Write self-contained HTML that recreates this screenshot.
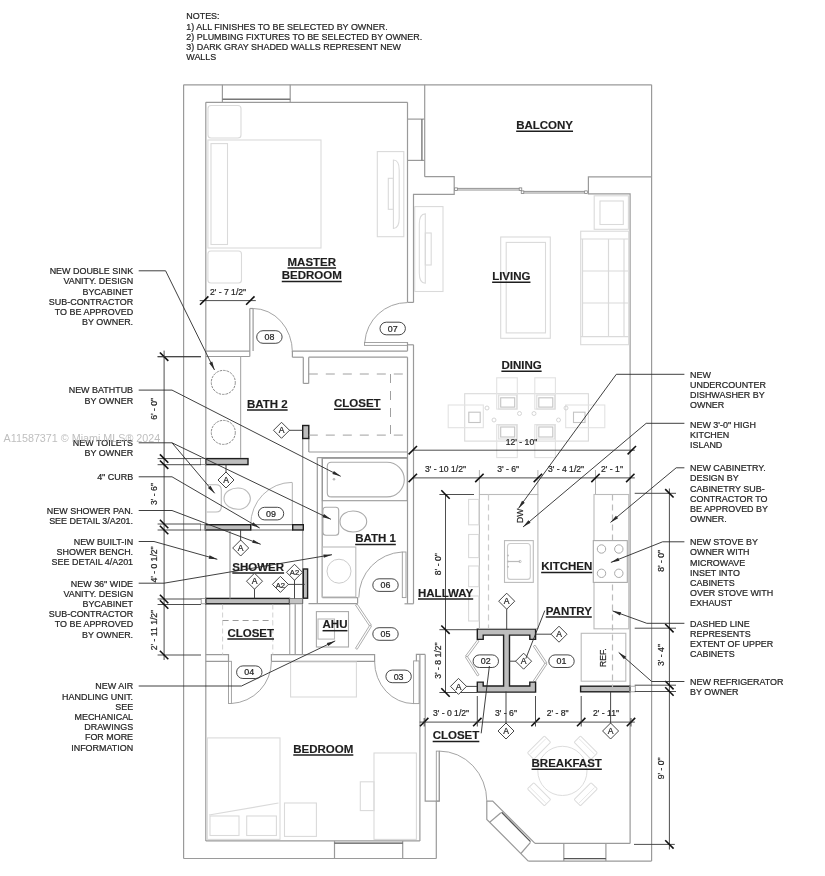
<!DOCTYPE html>
<html><head><meta charset="utf-8"><style>
html,body{margin:0;padding:0;background:#fff;}
svg{display:block;filter:blur(0.35px);}
text{font-family:"Liberation Sans",sans-serif;}
</style></head><body>
<svg width="825" height="876" viewBox="0 0 825 876">
<rect width="825" height="876" fill="#fff"/>
<text x="186.3" y="19.3" font-size="8.95" text-anchor="start" font-weight="normal" fill="#262626" stroke="#262626" stroke-width="0.22" >NOTES:</text>
<text x="186.3" y="29.5" font-size="8.95" text-anchor="start" font-weight="normal" fill="#262626" stroke="#262626" stroke-width="0.22" >1) ALL FINISHES TO BE SELECTED BY OWNER.</text>
<text x="186.3" y="39.7" font-size="8.95" text-anchor="start" font-weight="normal" fill="#262626" stroke="#262626" stroke-width="0.22" >2) PLUMBING FIXTURES TO BE SELECTED BY OWNER.</text>
<text x="186.3" y="49.9" font-size="8.95" text-anchor="start" font-weight="normal" fill="#262626" stroke="#262626" stroke-width="0.22" >3) DARK GRAY SHADED WALLS REPRESENT NEW</text>
<text x="186.3" y="60.099999999999994" font-size="8.95" text-anchor="start" font-weight="normal" fill="#262626" stroke="#262626" stroke-width="0.22" >WALLS</text>
<line x1="183.6" y1="84.8" x2="651.6" y2="84.8" stroke="#9a9a9a" stroke-width="1.2" />
<line x1="183.6" y1="84.8" x2="183.6" y2="858.5" stroke="#9a9a9a" stroke-width="1.2" />
<line x1="651.6" y1="84.8" x2="651.6" y2="861.1" stroke="#9a9a9a" stroke-width="1.2" />
<line x1="183.6" y1="858.5" x2="436.3" y2="858.5" stroke="#9a9a9a" stroke-width="1.2" />
<line x1="222.4" y1="84.8" x2="222.4" y2="102.3" stroke="#9a9a9a" stroke-width="1.2" />
<line x1="290.2" y1="84.8" x2="290.2" y2="102.3" stroke="#9a9a9a" stroke-width="1.2" />
<line x1="222.4" y1="99.2" x2="290.2" y2="99.2" stroke="#777" stroke-width="1.4" />
<line x1="205.8" y1="102.3" x2="407.5" y2="102.3" stroke="#9a9a9a" stroke-width="1.2" />
<line x1="205.8" y1="102.3" x2="205.8" y2="840.9" stroke="#9a9a9a" stroke-width="1.2" />
<line x1="407.5" y1="102.3" x2="407.5" y2="302.4" stroke="#9a9a9a" stroke-width="1.2" />
<line x1="407.5" y1="302.4" x2="413.5" y2="302.4" stroke="#9a9a9a" stroke-width="1.2" />
<line x1="407.5" y1="119.1" x2="424.7" y2="119.1" stroke="#9a9a9a" stroke-width="1.2" />
<line x1="407.5" y1="160.4" x2="424.7" y2="160.4" stroke="#9a9a9a" stroke-width="1.2" />
<line x1="421.9" y1="119.1" x2="421.9" y2="160.4" stroke="#7a7a7a" stroke-width="1.4" />
<line x1="424.7" y1="84.8" x2="424.7" y2="176.7" stroke="#9a9a9a" stroke-width="1.2" />
<polyline points="424.7,176.7 454.2,176.7 454.2,194.3 413.5,194.3 413.5,302.4" stroke="#9a9a9a" stroke-width="1.2" fill="none" />
<line x1="454.5" y1="188.4" x2="521.5" y2="188.4" stroke="#777" stroke-width="0.8" />
<line x1="454.5" y1="190.0" x2="521.5" y2="190.0" stroke="#777" stroke-width="0.8" />
<line x1="521.5" y1="191.4" x2="587" y2="191.4" stroke="#777" stroke-width="0.8" />
<line x1="521.5" y1="193.0" x2="587" y2="193.0" stroke="#777" stroke-width="0.8" />
<rect x="454.7" y="187.89999999999998" width="2.6" height="2.6" stroke="#777" stroke-width="0.7" fill="#fff"/>
<rect x="519.2" y="187.89999999999998" width="2.6" height="2.6" stroke="#777" stroke-width="0.7" fill="#fff"/>
<rect x="521.2" y="190.89999999999998" width="2.6" height="2.6" stroke="#777" stroke-width="0.7" fill="#fff"/>
<rect x="584.7" y="190.89999999999998" width="2.6" height="2.6" stroke="#777" stroke-width="0.7" fill="#fff"/>
<polyline points="651.6,176.9 588.4,176.9 588.4,193.9 630.1,193.9 630.1,843.4" stroke="#9a9a9a" stroke-width="1.2" fill="none" />
<line x1="413.5" y1="344.8" x2="413.5" y2="603.8" stroke="#9a9a9a" stroke-width="1.2" />
<line x1="407.5" y1="357.2" x2="407.5" y2="603.8" stroke="#9a9a9a" stroke-width="1.2" />
<line x1="407.5" y1="342.5" x2="407.5" y2="350.9" stroke="#9a9a9a" stroke-width="1.2" />
<line x1="404.5" y1="603.8" x2="413.5" y2="603.8" stroke="#9a9a9a" stroke-width="1.2" />
<line x1="407.5" y1="344.8" x2="413.5" y2="344.8" stroke="#9a9a9a" stroke-width="1.2" />
<line x1="292.4" y1="351.1" x2="407.5" y2="351.1" stroke="#9a9a9a" stroke-width="1.2" />
<line x1="308.7" y1="357.2" x2="407.5" y2="357.2" stroke="#9a9a9a" stroke-width="1.2" />
<line x1="303.3" y1="357.2" x2="303.3" y2="383.4" stroke="#9a9a9a" stroke-width="1.2" />
<line x1="308.7" y1="357.2" x2="308.7" y2="383.4" stroke="#9a9a9a" stroke-width="1.2" />
<line x1="303.3" y1="383.4" x2="308.7" y2="383.4" stroke="#9a9a9a" stroke-width="1.2" />
<line x1="302.7" y1="438.5" x2="302.7" y2="603.8" stroke="#9a9a9a" stroke-width="1.2" />
<line x1="308.8" y1="438.5" x2="308.8" y2="452" stroke="#9a9a9a" stroke-width="1.2" />
<line x1="308.8" y1="452" x2="407.5" y2="452" stroke="#9a9a9a" stroke-width="1.2" />
<line x1="317.3" y1="457.6" x2="407.5" y2="457.6" stroke="#9a9a9a" stroke-width="1.2" />
<line x1="317.3" y1="457.6" x2="317.3" y2="603.6" stroke="#9a9a9a" stroke-width="1.2" />
<line x1="322.2" y1="457.6" x2="322.2" y2="597.6" stroke="#9a9a9a" stroke-width="1.2" />
<line x1="322.4" y1="597.6" x2="357.6" y2="597.6" stroke="#9a9a9a" stroke-width="1.2" />
<line x1="308.5" y1="603.6" x2="357.6" y2="603.6" stroke="#9a9a9a" stroke-width="1.2" />
<line x1="357.6" y1="597.6" x2="357.6" y2="603.6" stroke="#9a9a9a" stroke-width="1.2" />
<line x1="249.8" y1="308.5" x2="249.8" y2="356.5" stroke="#9a9a9a" stroke-width="1.2" />
<line x1="253.1" y1="308.5" x2="253.1" y2="351.1" stroke="#9a9a9a" stroke-width="1.2" />
<line x1="249.8" y1="308.5" x2="253.1" y2="308.5" stroke="#9a9a9a" stroke-width="1.2" />
<line x1="205.8" y1="356.5" x2="249.8" y2="356.5" stroke="#9a9a9a" stroke-width="1.2" />
<line x1="205.8" y1="351.1" x2="249.8" y2="351.1" stroke="#9a9a9a" stroke-width="1.2" />
<line x1="289.7" y1="604.3" x2="289.7" y2="654.7" stroke="#aaa" stroke-width="1.2" />
<line x1="295.2" y1="604.3" x2="295.2" y2="654.7" stroke="#9a9a9a" stroke-width="1.2" />
<line x1="302.4" y1="604.3" x2="302.4" y2="654.7" stroke="#9a9a9a" stroke-width="1.2" />
<polyline points="205.8,654.7 228.5,654.7 228.5,661.3 205.8,661.3" stroke="#9a9a9a" stroke-width="1.2" fill="none" />
<polyline points="271.4,661.3 271.4,654.7 374.6,654.7 374.6,661.3 271.4,661.3" stroke="#9a9a9a" stroke-width="1.2" fill="none" />
<polyline points="416.4,661.3 416.4,654.4 425.2,654.4" stroke="#9a9a9a" stroke-width="1.2" fill="none" />
<line x1="419.9" y1="654.4" x2="419.9" y2="840.9" stroke="#9a9a9a" stroke-width="1.2" />
<line x1="205.8" y1="840.9" x2="419.9" y2="840.9" stroke="#9a9a9a" stroke-width="1.2" />
<polyline points="425.2,654.4 425.2,801.1 439.3,801.1 439.3,751.1" stroke="#9a9a9a" stroke-width="1.2" fill="none" />
<line x1="436.3" y1="801.1" x2="436.3" y2="858.5" stroke="#9a9a9a" stroke-width="1.2" />
<line x1="413.2" y1="603.8" x2="413.2" y2="603.8" stroke="#9a9a9a" stroke-width="1.2" />
<line x1="334.5" y1="840.9" x2="334.5" y2="858.5" stroke="#9a9a9a" stroke-width="1.2" />
<line x1="402.7" y1="840.9" x2="402.7" y2="858.5" stroke="#9a9a9a" stroke-width="1.2" />
<line x1="334.5" y1="843.2" x2="402.7" y2="843.2" stroke="#555" stroke-width="1.3" />
<line x1="535" y1="843.3" x2="630.1" y2="843.3" stroke="#9a9a9a" stroke-width="1.2" />
<line x1="528.3" y1="861.1" x2="651.6" y2="861.1" stroke="#9a9a9a" stroke-width="1.2" />
<polyline points="486.8,801.1 486.8,819.4 528.3,861.1" stroke="#9a9a9a" stroke-width="1.2" fill="none" />
<polyline points="486.8,801.1 492.7,801.1 535,843.3" stroke="#9a9a9a" stroke-width="1.2" fill="none" />
<line x1="501.6" y1="812.3" x2="530.5" y2="841.6" stroke="#555" stroke-width="1.3" />
<line x1="489.7" y1="822.3" x2="500.9" y2="812.7" stroke="#9a9a9a" stroke-width="1.2" />
<line x1="520.9" y1="853.5" x2="530.5" y2="842.4" stroke="#9a9a9a" stroke-width="1.2" />
<line x1="563.8" y1="843.3" x2="563.8" y2="861.1" stroke="#9a9a9a" stroke-width="1.2" />
<line x1="605.9" y1="843.3" x2="605.9" y2="861.1" stroke="#9a9a9a" stroke-width="1.2" />
<line x1="563.8" y1="858.7" x2="605.9" y2="858.7" stroke="#555" stroke-width="1.3" />
<path d="M253.1,308.5 A39.3,43.7 0 0 1 292.4,352.2" stroke="#9a9a9a" stroke-width="0.9" fill="none" />
<line x1="292.4" y1="351.1" x2="292.4" y2="357.2" stroke="#9a9a9a" stroke-width="1.2" />
<line x1="292.4" y1="357.2" x2="303.3" y2="357.2" stroke="#9a9a9a" stroke-width="1.2" />
<rect x="364.5" y="342.5" width="43.0" height="2.8999999999999773" rx="0" stroke="#9a9a9a" stroke-width="0.9" fill="none" />
<path d="M364.8,342.1 A42.5,42.5 0 0 1 407.3,302.6" stroke="#9a9a9a" stroke-width="0.9" fill="none" />
<rect x="402.3" y="552" width="3.6999999999999886" height="45.60000000000002" rx="0" stroke="#9a9a9a" stroke-width="0.9" fill="none" />
<path d="M402.3,552 A45.6,45.6 0 0 0 358.8,597.6" stroke="#9a9a9a" stroke-width="0.9" fill="none" />
<rect x="228.5" y="661.3" width="2.9000000000000057" height="42.200000000000045" rx="0" stroke="#9a9a9a" stroke-width="0.9" fill="none" />
<path d="M231.4,703.5 A42.2,42.2 0 0 0 271.4,661.3" stroke="#9a9a9a" stroke-width="0.9" fill="none" />
<rect x="413.6" y="660.9" width="5.5" height="42.700000000000045" rx="0" stroke="#9a9a9a" stroke-width="0.9" fill="none" />
<path d="M413.6,703.6 A39,42.3 0 0 1 374.6,661.3" stroke="#9a9a9a" stroke-width="0.9" fill="none" />
<path d="M292,482.4 A41.3,42.3 0 0 0 250.7,524.7" stroke="#aaa" stroke-width="0.9" fill="none" />
<line x1="292.3" y1="482.4" x2="292.3" y2="524.7" stroke="#aaa" stroke-width="0.9" />
<rect x="436.3" y="751.1" width="3.0" height="50.0" rx="0" stroke="#9a9a9a" stroke-width="0.9" fill="none" />
<path d="M439.3,751.1 A47.5,50 0 0 1 486.8,801.1" stroke="#9a9a9a" stroke-width="0.9" fill="none" />
<polygon points="355.46975309984276,605.0573958062089 369.7697530998428,626.3573958062088 371.4302469001573,625.2426041937911 357.13024690015726,603.9426041937911" stroke="#9a9a9a" stroke-width="0.8" fill="#fff" />
<polygon points="369.75075942173265,625.2719939013381 355.45075942173264,648.2719939013381 357.1492405782674,649.3280060986618 371.4492405782674,626.3280060986618" stroke="#9a9a9a" stroke-width="0.8" fill="#fff" />
<polygon points="477.3958238585337,640.0056089389162 465.4958238585337,656.1056089389162 467.1041761414663,657.2943910610838 479.0041761414663,641.1943910610838" stroke="#9a9a9a" stroke-width="0.8" fill="#fff" />
<polygon points="465.4563385122679,657.2368754921932 477.3563385122679,675.9368754921932 479.0436614877321,674.8631245078068 467.1436614877321,656.1631245078069" stroke="#9a9a9a" stroke-width="0.8" fill="#fff" />
<polygon points="533.3686689266763,646.255777515312 545.2686689266762,664.055777515312 546.9313310733238,662.944222484688 535.0313310733238,645.144222484688" stroke="#9a9a9a" stroke-width="0.8" fill="#fff" />
<polygon points="545.2686689266762,662.944222484688 533.3686689266763,680.744222484688 535.0313310733238,681.855777515312 546.9313310733238,664.055777515312" stroke="#9a9a9a" stroke-width="0.8" fill="#fff" />
<rect x="205.8" y="458.6" width="42.19999999999999" height="6.0" rx="0" stroke="#1e1e1e" stroke-width="1.4" fill="#bdbdbd" />
<rect x="200.5" y="458.6" width="5.300000000000011" height="6.0" rx="0" stroke="#888" stroke-width="0.8" fill="none" />
<rect x="250.7" y="524.7" width="42.0" height="5.2999999999999545" rx="0" stroke="#555" stroke-width="0.9" fill="none" />
<rect x="205.3" y="524.7" width="45.39999999999998" height="5.2999999999999545" rx="0" stroke="#1e1e1e" stroke-width="1.4" fill="#bdbdbd" />
<rect x="292.7" y="524.7" width="10.600000000000023" height="5.2999999999999545" rx="0" stroke="#1e1e1e" stroke-width="1.4" fill="#bdbdbd" />
<rect x="205.8" y="598.4" width="83.69999999999999" height="5.399999999999977" rx="0" stroke="#1e1e1e" stroke-width="1.4" fill="#bdbdbd" />
<rect x="303.3" y="569" width="4.300000000000011" height="29.200000000000045" rx="0" stroke="#1e1e1e" stroke-width="1.4" fill="#bdbdbd" />
<rect x="302.7" y="425.5" width="6.100000000000023" height="13.0" rx="0" stroke="#1e1e1e" stroke-width="1.4" fill="#bdbdbd" />
<rect x="200.5" y="524.7" width="4.800000000000011" height="5.2999999999999545" rx="0" stroke="#888" stroke-width="0.8" fill="none" />
<rect x="201.2" y="598.4" width="4.600000000000023" height="5.399999999999977" rx="0" stroke="#888" stroke-width="0.8" fill="none" />
<rect x="289.5" y="598.4" width="13.100000000000023" height="5.399999999999977" rx="0" stroke="#666" stroke-width="0.8" fill="#c4c4c4" />
<rect x="580.6" y="686.2" width="49.10000000000002" height="5.599999999999909" rx="0" stroke="#1e1e1e" stroke-width="1.4" fill="#bdbdbd" />
<rect x="629.7" y="686.2" width="5.599999999999909" height="5.599999999999909" rx="0" stroke="#999" stroke-width="0.8" fill="none" />
<path d="M477.3,629.1 H535.6 V639.4 H529.8 V635.1 H509.5 V686 H529.8 V682.1 H535.6 V692.1 H477.3 V682.1 H483.2 V686 H503.6 V635.1 H483.2 V639.4 H477.3 Z" stroke="#1e1e1e" stroke-width="1.4" fill="#bdbdbd" />
<rect x="207.9" y="140" width="113.1" height="108" rx="0" stroke="#dadada" stroke-width="1.1" fill="none" />
<rect x="211" y="143.6" width="16.5" height="100.9" rx="0" stroke="#dadada" stroke-width="1.1" fill="none" />
<rect x="207.9" y="251" width="33.599999999999994" height="32" rx="3" stroke="#dadada" stroke-width="1.1" fill="none" />
<rect x="208" y="105.5" width="33" height="32.5" rx="3" stroke="#dadada" stroke-width="1.1" fill="none" />
<rect x="377.3" y="151.6" width="26.5" height="85.1" rx="0" stroke="#dadada" stroke-width="1.1" fill="none" />
<path d="M393.4,160 Q399.2,160 399.2,170 V218 Q399.2,228.5 393.4,228.5 Z" stroke="#dadada" stroke-width="1.1" fill="none" />
<rect x="388.3" y="178.3" width="5.099999999999966" height="31.0" rx="0" stroke="#dadada" stroke-width="1.1" fill="none" />
<path d="M308.8,374 H407.5 M308.8,435.1 H407.5" stroke="#a0a0a0" stroke-width="1.0" fill="none" stroke-dasharray="9,8"/>
<path d="M390.5,374 V435.1" stroke="#a0a0a0" stroke-width="1.0" fill="none" stroke-dasharray="9,8"/>
<circle cx="223.3" cy="382.4" r="12" stroke="#8a8a8a" stroke-width="1" fill="none" stroke-dasharray="2.5,1"/>
<circle cx="223.3" cy="432.4" r="12" stroke="#8a8a8a" stroke-width="1" fill="none" stroke-dasharray="2.5,1"/>
<line x1="240.6" y1="356.7" x2="240.6" y2="458" stroke="#b0b0b0" stroke-width="1.2" />
<rect x="322.4" y="458.3" width="84.90000000000003" height="42.39999999999998" rx="0" stroke="#999" stroke-width="1.1" fill="none" />
<path d="M331.3,462.3 H387 A17.3,17.3 0 0 1 387,496.9 H331.3 Q327.3,496.9 327.3,492.9 V466.3 Q327.3,462.3 331.3,462.3 Z" stroke="#aaa" stroke-width="1.1" fill="none" />
<circle cx="334" cy="479.3" r="1.3" fill="#bbb"/>
<path d="M206.7,484.7 H216 Q221.3,484.7 221.3,490 V506.7 Q221.3,512 216,512 H206.7" stroke="#bbb" stroke-width="1.1" fill="none" />
<path d="M224,498.6 C224,491 232,488 238,488 C246,488 250.4,494 250.4,498.6 C250.4,503.5 246,509.3 238,509.3 C232,509.3 224,506 224,498.6 Z" stroke="#bbb" stroke-width="1.1" fill="none" />
<rect x="322.9" y="507.3" width="15.800000000000011" height="27.999999999999943" rx="3" stroke="#aaa" stroke-width="1.1" fill="none" />
<path d="M340,521.5 C340,514 347,511 353,511 C361,511 366.7,516 366.7,521.5 C366.7,527 361,532 353,532 C347,532 340,529 340,521.5 Z" stroke="#aaa" stroke-width="1.1" fill="none" />
<rect x="322.4" y="547" width="33.400000000000034" height="50" rx="0" stroke="#bbb" stroke-width="1.1" fill="none" />
<circle cx="339" cy="571.2" r="12" stroke="#ccc" stroke-width="1" fill="none"/>
<rect x="316.4" y="611.6" width="32.10000000000002" height="35.39999999999998" rx="0" stroke="#aaa" stroke-width="1.1" fill="none" />
<rect x="318" y="619" width="16.5" height="20.100000000000023" rx="0" stroke="#bbb" stroke-width="1.1" fill="none" />
<path d="M222.6,604.5 V654.7 M272.8,604.5 V654.7" stroke="#ccc" stroke-width="0.9" fill="none" stroke-dasharray="5,3"/>
<path d="M222.6,620.5 H272.8" stroke="#9a9a9a" stroke-width="1.0" fill="none" stroke-dasharray="6,4"/>
<line x1="230" y1="530" x2="230" y2="598.4" stroke="#999" stroke-width="1.2" />
<rect x="290.6" y="662" width="65.79999999999995" height="35" rx="0" stroke="#dadada" stroke-width="1.1" fill="none" />
<rect x="207.3" y="737.9" width="72.69999999999999" height="101.5" rx="0" stroke="#dadada" stroke-width="1.1" fill="none" />
<rect x="210" y="816" width="29" height="19.5" rx="0" stroke="#dadada" stroke-width="1.1" fill="none" />
<rect x="246.7" y="816" width="29.69999999999999" height="19.5" rx="0" stroke="#dadada" stroke-width="1.1" fill="none" />
<line x1="209" y1="815" x2="278.5" y2="803" stroke="#dadada" stroke-width="1.2" />
<rect x="284.5" y="803" width="31.899999999999977" height="33.39999999999998" rx="0" stroke="#dadada" stroke-width="1.1" fill="none" />
<rect x="374" y="753" width="42.39999999999998" height="86.39999999999998" rx="0" stroke="#dadada" stroke-width="1.1" fill="none" />
<rect x="360.3" y="781.8" width="13.699999999999989" height="28.800000000000068" rx="0" stroke="#dadada" stroke-width="1.1" fill="none" />
<rect x="414.7" y="206.6" width="28.30000000000001" height="84.9" rx="0" stroke="#dadada" stroke-width="1.1" fill="none" />
<path d="M425.3,213.9 Q419.3,213.9 419.3,224 V273 Q419.3,283.2 425.3,283.2 Z" stroke="#dadada" stroke-width="1.1" fill="none" />
<rect x="425.3" y="233" width="5.899999999999977" height="32" rx="0" stroke="#dadada" stroke-width="1.1" fill="none" />
<rect x="500.7" y="237" width="49.599999999999966" height="101.30000000000001" rx="0" stroke="#dadada" stroke-width="1.1" fill="none" />
<rect x="506.2" y="242.4" width="39.30000000000001" height="90.49999999999997" rx="0" stroke="#dadada" stroke-width="1.1" fill="none" />
<rect x="580.7" y="231.2" width="48.0" height="113.5" rx="0" stroke="#dadada" stroke-width="1.1" fill="none" />
<line x1="583" y1="271" x2="628" y2="271" stroke="#dadada" stroke-width="1.2" />
<line x1="583" y1="303" x2="628" y2="303" stroke="#dadada" stroke-width="1.2" />
<line x1="608.5" y1="239" x2="608.5" y2="336.7" stroke="#dadada" stroke-width="1.2" />
<line x1="580.7" y1="239" x2="628.7" y2="239" stroke="#dadada" stroke-width="1.2" />
<line x1="580.7" y1="336.7" x2="628.7" y2="336.7" stroke="#dadada" stroke-width="1.2" />
<line x1="582.5" y1="239" x2="582.5" y2="336.7" stroke="#dadada" stroke-width="1.2" />
<line x1="624" y1="239" x2="624" y2="336.7" stroke="#dadada" stroke-width="1.2" />
<rect x="594.2" y="195.8" width="34.19999999999993" height="33.5" rx="0" stroke="#dadada" stroke-width="1.1" fill="none" />
<rect x="600" y="201" width="23.299999999999955" height="23.5" rx="0" stroke="#dadada" stroke-width="1.1" fill="none" />
<rect x="464.7" y="393.7" width="123.69999999999999" height="47.400000000000034" rx="0" stroke="#dadada" stroke-width="1.1" fill="none" />
<rect x="496.7" y="377.8" width="20.599999999999966" height="31.30000000000001" rx="0" stroke="#e2e2e2" stroke-width="1.1" fill="none" />
<rect x="500.7" y="397.8" width="14.000000000000057" height="9.300000000000011" rx="0" stroke="#c4c4c4" stroke-width="1.1" fill="none" />
<rect x="498.7" y="395" width="18.000000000000057" height="14" rx="0" stroke="#dcdcdc" stroke-width="1.1" fill="none" />
<rect x="496.7" y="424.6" width="20.599999999999966" height="33.0" rx="0" stroke="#e2e2e2" stroke-width="1.1" fill="none" />
<rect x="500.7" y="427" width="14.000000000000057" height="10" rx="0" stroke="#c4c4c4" stroke-width="1.1" fill="none" />
<rect x="498.7" y="425" width="18.000000000000057" height="14" rx="0" stroke="#dcdcdc" stroke-width="1.1" fill="none" />
<rect x="534.8" y="377.8" width="20.600000000000023" height="31.30000000000001" rx="0" stroke="#e2e2e2" stroke-width="1.1" fill="none" />
<rect x="538.8" y="397.8" width="14.0" height="9.300000000000011" rx="0" stroke="#c4c4c4" stroke-width="1.1" fill="none" />
<rect x="536.8" y="395" width="18.0" height="14" rx="0" stroke="#dcdcdc" stroke-width="1.1" fill="none" />
<rect x="534.8" y="424.6" width="20.600000000000023" height="33.0" rx="0" stroke="#e2e2e2" stroke-width="1.1" fill="none" />
<rect x="538.8" y="427" width="14.0" height="10" rx="0" stroke="#c4c4c4" stroke-width="1.1" fill="none" />
<rect x="536.8" y="425" width="18.0" height="14" rx="0" stroke="#dcdcdc" stroke-width="1.1" fill="none" />
<rect x="448.2" y="405" width="35.10000000000002" height="22.69999999999999" rx="0" stroke="#e2e2e2" stroke-width="1.1" fill="none" />
<rect x="468.8" y="412.2" width="11.399999999999977" height="10.300000000000011" rx="0" stroke="#c4c4c4" stroke-width="1.1" fill="none" />
<rect x="565.7" y="405" width="39.09999999999991" height="22.69999999999999" rx="0" stroke="#e2e2e2" stroke-width="1.1" fill="none" />
<rect x="573.5" y="412.2" width="11.5" height="10.300000000000011" rx="0" stroke="#c4c4c4" stroke-width="1.1" fill="none" />
<circle cx="487" cy="408" r="2" stroke="#ccc" stroke-width="0.8" fill="none"/>
<circle cx="519.5" cy="413.5" r="2" stroke="#ccc" stroke-width="0.8" fill="none"/>
<circle cx="534" cy="413.5" r="2" stroke="#ccc" stroke-width="0.8" fill="none"/>
<circle cx="494" cy="420" r="2" stroke="#ccc" stroke-width="0.8" fill="none"/>
<circle cx="558.5" cy="420" r="2" stroke="#ccc" stroke-width="0.8" fill="none"/>
<circle cx="566" cy="408" r="2" stroke="#ccc" stroke-width="0.8" fill="none"/>
<rect x="479.4" y="494.5" width="58.5" height="134.0" rx="0" stroke="#bbb" stroke-width="1.1" fill="none" />
<line x1="488.5" y1="494.5" x2="488.5" y2="628" stroke="#ccc" stroke-width="1.2" stroke-dasharray="6,4"/>
<rect x="504.5" y="540.6" width="28.799999999999955" height="41.799999999999955" rx="0" stroke="#bbb" stroke-width="1.1" fill="none" />
<rect x="507.5" y="543.5" width="22.799999999999955" height="35.89999999999998" rx="3" stroke="#ccc" stroke-width="1.1" fill="none" />
<rect x="468.6" y="499.4" width="10.199999999999989" height="25.399999999999977" rx="0" stroke="#dadada" stroke-width="1.1" fill="none" />
<rect x="468.6" y="534.5" width="10.199999999999989" height="23.100000000000023" rx="0" stroke="#dadada" stroke-width="1.1" fill="none" />
<rect x="468.6" y="566" width="10.199999999999989" height="20.700000000000045" rx="0" stroke="#dadada" stroke-width="1.1" fill="none" />
<rect x="468.6" y="596" width="10.199999999999989" height="25" rx="0" stroke="#dadada" stroke-width="1.1" fill="none" />
<circle cx="507.9" cy="555.6" r="1" fill="#bbb"/>
<circle cx="507.9" cy="561.5" r="1" fill="#bbb"/>
<circle cx="507.9" cy="566.8" r="1" fill="#bbb"/>
<line x1="507.9" y1="561.5" x2="520" y2="561.5" stroke="#bbb" stroke-width="1.2" />
<circle cx="520" cy="561.5" r="1.2" fill="none" stroke="#bbb" stroke-width="0.8"/>
<line x1="479.4" y1="470" x2="479.4" y2="494.5" stroke="#aaa" stroke-width="0.9" />
<line x1="537.9" y1="470" x2="537.9" y2="494.5" stroke="#aaa" stroke-width="0.9" />
<line x1="595.5" y1="470" x2="595.5" y2="494.5" stroke="#aaa" stroke-width="0.9" />
<rect x="594" y="494.5" width="34.799999999999955" height="134.29999999999995" rx="0" stroke="#bbb" stroke-width="1.1" fill="none" />
<line x1="612.5" y1="494.5" x2="612.5" y2="692" stroke="#bbb" stroke-width="1.2" stroke-dasharray="6,4"/>
<rect x="593.3" y="540.6" width="34.0" height="41.799999999999955" rx="0" stroke="#aaa" stroke-width="1.1" fill="#fff" />
<circle cx="601.5" cy="549" r="4.2" stroke="#aaa" stroke-width="1" fill="none"/>
<circle cx="618.8" cy="549" r="4.2" stroke="#aaa" stroke-width="1" fill="none"/>
<circle cx="601.5" cy="573.3" r="4.2" stroke="#aaa" stroke-width="1" fill="none"/>
<circle cx="618.8" cy="573.3" r="4.2" stroke="#aaa" stroke-width="1" fill="none"/>
<rect x="581.2" y="633.3" width="44.59999999999991" height="47.90000000000009" rx="0" stroke="#bbb" stroke-width="1.1" fill="none" />
<text x="0" y="0" font-size="8.6" text-anchor="middle" font-weight="normal" fill="#262626" stroke="#262626" stroke-width="0.22" transform="translate(605.5,657.6) rotate(-90)">REF.</text>
<circle cx="562.4" cy="770.9" r="24.6" stroke="#ddd" stroke-width="1" fill="none"/>
<g transform="rotate(135 585.734523779156 794.234523779156)"><rect x="573.734523779156" y="789.734523779156" width="24" height="9" rx="1" stroke="#dcdcdc" stroke-width="1" fill="#fff"/><line x1="574.734523779156" y1="792.734523779156" x2="596.734523779156" y2="792.734523779156" stroke="#e2e2e2" stroke-width="0.8"/></g>
<g transform="rotate(225 539.065476220844 794.234523779156)"><rect x="527.065476220844" y="789.734523779156" width="24" height="9" rx="1" stroke="#dcdcdc" stroke-width="1" fill="#fff"/><line x1="528.065476220844" y1="792.734523779156" x2="550.065476220844" y2="792.734523779156" stroke="#e2e2e2" stroke-width="0.8"/></g>
<g transform="rotate(315 539.065476220844 747.565476220844)"><rect x="527.065476220844" y="743.065476220844" width="24" height="9" rx="1" stroke="#dcdcdc" stroke-width="1" fill="#fff"/><line x1="528.065476220844" y1="746.065476220844" x2="550.065476220844" y2="746.065476220844" stroke="#e2e2e2" stroke-width="0.8"/></g>
<g transform="rotate(405 585.734523779156 747.565476220844)"><rect x="573.734523779156" y="743.065476220844" width="24" height="9" rx="1" stroke="#dcdcdc" stroke-width="1" fill="#fff"/><line x1="574.734523779156" y1="746.065476220844" x2="596.734523779156" y2="746.065476220844" stroke="#e2e2e2" stroke-width="0.8"/></g>
<line x1="164.1" y1="350.6" x2="164.1" y2="660" stroke="#3a3a3a" stroke-width="0.9" />
<line x1="157.6" y1="356.7" x2="201" y2="356.7" stroke="#3a3a3a" stroke-width="0.9" />
<line x1="157.6" y1="458.6" x2="201" y2="458.6" stroke="#3a3a3a" stroke-width="0.9" />
<line x1="157.6" y1="464.7" x2="201" y2="464.7" stroke="#3a3a3a" stroke-width="0.9" />
<line x1="157.6" y1="524" x2="201" y2="524" stroke="#3a3a3a" stroke-width="0.9" />
<line x1="157.6" y1="530" x2="201" y2="530" stroke="#3a3a3a" stroke-width="0.9" />
<line x1="157.6" y1="599" x2="201" y2="599" stroke="#3a3a3a" stroke-width="0.9" />
<line x1="157.6" y1="604.5" x2="201" y2="604.5" stroke="#3a3a3a" stroke-width="0.9" />
<line x1="157.6" y1="655" x2="201" y2="655" stroke="#3a3a3a" stroke-width="0.9" />
<line x1="159.9" y1="352.5" x2="168.29999999999998" y2="360.9" stroke="#111" stroke-width="1.6" />
<line x1="159.9" y1="454.40000000000003" x2="168.29999999999998" y2="462.8" stroke="#111" stroke-width="1.6" />
<line x1="159.9" y1="460.5" x2="168.29999999999998" y2="468.9" stroke="#111" stroke-width="1.6" />
<line x1="159.9" y1="519.8" x2="168.29999999999998" y2="528.2" stroke="#111" stroke-width="1.6" />
<line x1="159.9" y1="525.8" x2="168.29999999999998" y2="534.2" stroke="#111" stroke-width="1.6" />
<line x1="159.9" y1="594.8" x2="168.29999999999998" y2="603.2" stroke="#111" stroke-width="1.6" />
<line x1="159.9" y1="600.3" x2="168.29999999999998" y2="608.7" stroke="#111" stroke-width="1.6" />
<line x1="159.9" y1="650.8" x2="168.29999999999998" y2="659.2" stroke="#111" stroke-width="1.6" />
<line x1="157.6" y1="356.7" x2="201" y2="356.7" stroke="#3a3a3a" stroke-width="0.9" />
<text x="0" y="0" font-size="8.6" text-anchor="middle" font-weight="normal" fill="#262626" stroke="#262626" stroke-width="0.22" transform="translate(157.4,408.8) rotate(-90)">6' - 0"</text>
<text x="0" y="0" font-size="8.6" text-anchor="middle" font-weight="normal" fill="#262626" stroke="#262626" stroke-width="0.22" transform="translate(157.4,494) rotate(-90)">3' - 6"</text>
<text x="0" y="0" font-size="8.6" text-anchor="middle" font-weight="normal" fill="#262626" stroke="#262626" stroke-width="0.22" transform="translate(157.4,564.5) rotate(-90)">4' - 0 1/2"</text>
<text x="0" y="0" font-size="8.6" text-anchor="middle" font-weight="normal" fill="#262626" stroke="#262626" stroke-width="0.22" transform="translate(157.4,630) rotate(-90)">2' - 11 1/2"</text>
<line x1="199.7" y1="300.6" x2="255.8" y2="300.6" stroke="#3a3a3a" stroke-width="0.9" />
<line x1="200.0" y1="304.8" x2="208.39999999999998" y2="296.40000000000003" stroke="#111" stroke-width="1.6" />
<line x1="246.10000000000002" y1="304.8" x2="254.5" y2="296.40000000000003" stroke="#111" stroke-width="1.6" />
<text x="228" y="294.5" font-size="8.6" text-anchor="middle" font-weight="normal" fill="#262626" stroke="#262626" stroke-width="0.22" >2' - 7 1/2"</text>
<line x1="412.8" y1="450.2" x2="634.8" y2="450.2" stroke="#3a3a3a" stroke-width="0.9" />
<line x1="408.6" y1="454.4" x2="417.0" y2="446.0" stroke="#111" stroke-width="1.6" />
<line x1="627.5999999999999" y1="454.4" x2="636.0" y2="446.0" stroke="#111" stroke-width="1.6" />
<text x="521.5" y="444.6" font-size="8.6" text-anchor="middle" font-weight="normal" fill="#262626" stroke="#262626" stroke-width="0.22" >12' - 10"</text>
<line x1="412.8" y1="477.9" x2="634.8" y2="477.9" stroke="#3a3a3a" stroke-width="0.9" />
<line x1="408.6" y1="482.09999999999997" x2="417.0" y2="473.7" stroke="#111" stroke-width="1.6" />
<line x1="475.2" y1="482.09999999999997" x2="483.59999999999997" y2="473.7" stroke="#111" stroke-width="1.6" />
<line x1="533.6999999999999" y1="482.09999999999997" x2="542.1" y2="473.7" stroke="#111" stroke-width="1.6" />
<line x1="591.3" y1="482.09999999999997" x2="599.7" y2="473.7" stroke="#111" stroke-width="1.6" />
<line x1="626.0999999999999" y1="482.09999999999997" x2="634.5" y2="473.7" stroke="#111" stroke-width="1.6" />
<text x="445.5" y="471.8" font-size="8.6" text-anchor="middle" font-weight="normal" fill="#262626" stroke="#262626" stroke-width="0.22" >3' - 10 1/2"</text>
<text x="508.2" y="471.8" font-size="8.6" text-anchor="middle" font-weight="normal" fill="#262626" stroke="#262626" stroke-width="0.22" >3' - 6"</text>
<text x="566" y="471.8" font-size="8.6" text-anchor="middle" font-weight="normal" fill="#262626" stroke="#262626" stroke-width="0.22" >3' - 4 1/2"</text>
<text x="612" y="471.8" font-size="8.6" text-anchor="middle" font-weight="normal" fill="#262626" stroke="#262626" stroke-width="0.22" >2' - 1"</text>
<line x1="445.5" y1="494.5" x2="445.5" y2="692.5" stroke="#3a3a3a" stroke-width="0.9" />
<line x1="439.4" y1="494.5" x2="474" y2="494.5" stroke="#3a3a3a" stroke-width="0.9" />
<line x1="441.3" y1="490.3" x2="449.7" y2="498.7" stroke="#111" stroke-width="1.6" />
<text x="0" y="0" font-size="8.6" text-anchor="middle" font-weight="normal" fill="#262626" stroke="#262626" stroke-width="0.22" transform="translate(440.9,564.2) rotate(-90)">8' - 0"</text>
<line x1="439.4" y1="629.7" x2="477" y2="629.7" stroke="#3a3a3a" stroke-width="0.9" />
<line x1="441.3" y1="625.5" x2="449.7" y2="633.9000000000001" stroke="#111" stroke-width="1.6" />
<line x1="439.4" y1="692.5" x2="477" y2="692.5" stroke="#3a3a3a" stroke-width="0.9" />
<line x1="441.3" y1="688.3" x2="449.7" y2="696.7" stroke="#111" stroke-width="1.6" />
<text x="0" y="0" font-size="8.6" text-anchor="middle" font-weight="normal" fill="#262626" stroke="#262626" stroke-width="0.22" transform="translate(440.9,660.6) rotate(-90)">3' - 8 1/2"</text>
<line x1="419.7" y1="722.1" x2="634.8" y2="722.1" stroke="#3a3a3a" stroke-width="0.9" />
<line x1="420.0" y1="726.3000000000001" x2="428.4" y2="717.9" stroke="#111" stroke-width="1.6" />
<line x1="473.1" y1="726.3000000000001" x2="481.5" y2="717.9" stroke="#111" stroke-width="1.6" />
<line x1="531.3" y1="726.3000000000001" x2="539.7" y2="717.9" stroke="#111" stroke-width="1.6" />
<line x1="577.0" y1="726.3000000000001" x2="585.4000000000001" y2="717.9" stroke="#111" stroke-width="1.6" />
<line x1="626.8" y1="726.3000000000001" x2="635.2" y2="717.9" stroke="#111" stroke-width="1.6" />
<line x1="477.3" y1="696" x2="477.3" y2="726.5" stroke="#3a3a3a" stroke-width="0.9" />
<line x1="535.5" y1="696" x2="535.5" y2="726.5" stroke="#3a3a3a" stroke-width="0.9" />
<line x1="581.2" y1="696" x2="581.2" y2="726.5" stroke="#3a3a3a" stroke-width="0.9" />
<line x1="424.2" y1="718" x2="424.2" y2="726.5" stroke="#3a3a3a" stroke-width="0.9" />
<line x1="631" y1="718" x2="631" y2="726.5" stroke="#3a3a3a" stroke-width="0.9" />
<text x="451" y="715.7" font-size="8.6" text-anchor="middle" font-weight="normal" fill="#262626" stroke="#262626" stroke-width="0.22" >3' - 0 1/2"</text>
<text x="506" y="715.7" font-size="8.6" text-anchor="middle" font-weight="normal" fill="#262626" stroke="#262626" stroke-width="0.22" >3' - 6"</text>
<text x="557.6" y="715.7" font-size="8.6" text-anchor="middle" font-weight="normal" fill="#262626" stroke="#262626" stroke-width="0.22" >2' - 8"</text>
<text x="606" y="715.7" font-size="8.6" text-anchor="middle" font-weight="normal" fill="#262626" stroke="#262626" stroke-width="0.22" >2' - 11"</text>
<line x1="669.4" y1="488.5" x2="669.4" y2="849.5" stroke="#3a3a3a" stroke-width="0.9" />
<line x1="634.7" y1="493.3" x2="676" y2="493.3" stroke="#3a3a3a" stroke-width="0.9" />
<line x1="665.1999999999999" y1="489.1" x2="673.6" y2="497.5" stroke="#111" stroke-width="1.6" />
<line x1="634.7" y1="628.2" x2="676" y2="628.2" stroke="#3a3a3a" stroke-width="0.9" />
<line x1="665.1999999999999" y1="624.0" x2="673.6" y2="632.4000000000001" stroke="#111" stroke-width="1.6" />
<line x1="634.7" y1="685.2" x2="676" y2="685.2" stroke="#3a3a3a" stroke-width="0.9" />
<line x1="634.7" y1="691.5" x2="676" y2="691.5" stroke="#3a3a3a" stroke-width="0.9" />
<line x1="665.1999999999999" y1="681.0" x2="673.6" y2="689.4000000000001" stroke="#111" stroke-width="1.6" />
<line x1="665.1999999999999" y1="687.3" x2="673.6" y2="695.7" stroke="#111" stroke-width="1.6" />
<line x1="634" y1="844.4" x2="674.8" y2="844.4" stroke="#3a3a3a" stroke-width="0.9" />
<line x1="665.1999999999999" y1="840.1999999999999" x2="673.6" y2="848.6" stroke="#111" stroke-width="1.6" />
<text x="0" y="0" font-size="8.6" text-anchor="middle" font-weight="normal" fill="#262626" stroke="#262626" stroke-width="0.22" transform="translate(664.4,560.9) rotate(-90)">8' - 0"</text>
<text x="0" y="0" font-size="8.6" text-anchor="middle" font-weight="normal" fill="#262626" stroke="#262626" stroke-width="0.22" transform="translate(664.4,655.0) rotate(-90)">3' - 4"</text>
<text x="0" y="0" font-size="8.6" text-anchor="middle" font-weight="normal" fill="#262626" stroke="#262626" stroke-width="0.22" transform="translate(664.4,768.3) rotate(-90)">9' - 0"</text>
<text x="544.6" y="129.0" font-size="11.5" text-anchor="middle" font-weight="bold" fill="#1e1e1e" stroke="#1e1e1e" stroke-width="0.15" >BALCONY</text>
<line x1="516.16984375" y1="131.3" x2="573.03015625" y2="131.3" stroke="#1e1e1e" stroke-width="1.5" />
<text x="311.8" y="265.8" font-size="11.5" text-anchor="middle" font-weight="bold" fill="#1e1e1e" stroke="#1e1e1e" stroke-width="0.15" >MASTER</text>
<line x1="287.522421875" y1="268.1" x2="336.077578125" y2="268.1" stroke="#1e1e1e" stroke-width="1.5" />
<text x="311.8" y="279.2" font-size="11.5" text-anchor="middle" font-weight="bold" fill="#1e1e1e" stroke="#1e1e1e" stroke-width="0.15" >BEDROOM</text>
<line x1="281.772421875" y1="281.5" x2="341.827578125" y2="281.5" stroke="#1e1e1e" stroke-width="1.5" />
<text x="511.3" y="280.0" font-size="11.5" text-anchor="middle" font-weight="bold" fill="#1e1e1e" stroke="#1e1e1e" stroke-width="0.15" >LIVING</text>
<line x1="492.13273437500004" y1="282.3" x2="530.467265625" y2="282.3" stroke="#1e1e1e" stroke-width="1.5" />
<text x="521.5" y="368.9" font-size="11.5" text-anchor="middle" font-weight="bold" fill="#1e1e1e" stroke="#1e1e1e" stroke-width="0.15" >DINING</text>
<line x1="501.375" y1="371.2" x2="541.625" y2="371.2" stroke="#1e1e1e" stroke-width="1.5" />
<text x="267.3" y="407.59999999999997" font-size="11.5" text-anchor="middle" font-weight="bold" fill="#1e1e1e" stroke="#1e1e1e" stroke-width="0.15" >BATH 2</text>
<line x1="246.9620703125" y1="409.9" x2="287.6379296875" y2="409.9" stroke="#1e1e1e" stroke-width="1.5" />
<text x="357.3" y="407.0" font-size="11.5" text-anchor="middle" font-weight="bold" fill="#1e1e1e" stroke="#1e1e1e" stroke-width="0.15" >CLOSET</text>
<line x1="333.98015625" y1="409.3" x2="380.61984375000003" y2="409.3" stroke="#1e1e1e" stroke-width="1.5" />
<text x="375.5" y="542.2" font-size="11.5" text-anchor="middle" font-weight="bold" fill="#1e1e1e" stroke="#1e1e1e" stroke-width="0.15" >BATH 1</text>
<line x1="355.1620703125" y1="544.5" x2="395.8379296875" y2="544.5" stroke="#1e1e1e" stroke-width="1.5" />
<text x="258.2" y="570.7" font-size="11.5" text-anchor="middle" font-weight="bold" fill="#1e1e1e" stroke="#1e1e1e" stroke-width="0.15" >SHOWER</text>
<line x1="232.3241015625" y1="573.0" x2="284.0758984375" y2="573.0" stroke="#1e1e1e" stroke-width="1.5" />
<text x="445.6" y="596.6" font-size="11.5" text-anchor="middle" font-weight="bold" fill="#1e1e1e" stroke="#1e1e1e" stroke-width="0.15" >HALLWAY</text>
<line x1="418.01707031250004" y1="598.9" x2="473.1829296875" y2="598.9" stroke="#1e1e1e" stroke-width="1.5" />
<text x="566.7" y="570.1" font-size="11.5" text-anchor="middle" font-weight="bold" fill="#1e1e1e" stroke="#1e1e1e" stroke-width="0.15" >KITCHEN</text>
<line x1="541.1448437500001" y1="572.4" x2="592.25515625" y2="572.4" stroke="#1e1e1e" stroke-width="1.5" />
<text x="568.8" y="614.6" font-size="11.5" text-anchor="middle" font-weight="bold" fill="#1e1e1e" stroke="#1e1e1e" stroke-width="0.15" >PANTRY</text>
<line x1="545.7991015624999" y1="616.9" x2="591.8008984375" y2="616.9" stroke="#1e1e1e" stroke-width="1.5" />
<text x="250.7" y="636.6" font-size="11.5" text-anchor="middle" font-weight="bold" fill="#1e1e1e" stroke="#1e1e1e" stroke-width="0.15" >CLOSET</text>
<line x1="227.38015625" y1="638.9" x2="274.01984375" y2="638.9" stroke="#1e1e1e" stroke-width="1.5" />
<text x="335" y="628.4000000000001" font-size="11.5" text-anchor="middle" font-weight="bold" fill="#1e1e1e" stroke="#1e1e1e" stroke-width="0.15" >AHU</text>
<line x1="322.542265625" y1="630.7" x2="347.457734375" y2="630.7" stroke="#1e1e1e" stroke-width="1.5" />
<text x="456" y="739.2" font-size="11.5" text-anchor="middle" font-weight="bold" fill="#1e1e1e" stroke="#1e1e1e" stroke-width="0.15" >CLOSET</text>
<line x1="432.68015625" y1="741.5" x2="479.31984375" y2="741.5" stroke="#1e1e1e" stroke-width="1.5" />
<text x="323.3" y="752.8000000000001" font-size="11.5" text-anchor="middle" font-weight="bold" fill="#1e1e1e" stroke="#1e1e1e" stroke-width="0.15" >BEDROOM</text>
<line x1="293.272421875" y1="755.1" x2="353.327578125" y2="755.1" stroke="#1e1e1e" stroke-width="1.5" />
<text x="566.7" y="767.0" font-size="11.5" text-anchor="middle" font-weight="bold" fill="#1e1e1e" stroke="#1e1e1e" stroke-width="0.15" >BREAKFAST</text>
<line x1="531.5594140625001" y1="769.3" x2="601.8405859375" y2="769.3" stroke="#1e1e1e" stroke-width="1.5" />
<text x="0" y="0" font-size="8.6" text-anchor="middle" font-weight="normal" fill="#262626" stroke="#262626" stroke-width="0.22" transform="translate(522.7,515.8) rotate(-90)">DW</text>
<rect x="256.7" y="330.7" width="25.4" height="12.6" rx="6.3" stroke="#333" stroke-width="0.9" fill="#fff"/>
<text x="269.4" y="340.2" font-size="8.9" text-anchor="middle" font-weight="normal" fill="#262626" stroke="#262626" stroke-width="0.22" >08</text>
<rect x="380.0" y="322.2" width="25.4" height="12.6" rx="6.3" stroke="#333" stroke-width="0.9" fill="#fff"/>
<text x="392.7" y="331.7" font-size="8.9" text-anchor="middle" font-weight="normal" fill="#262626" stroke="#262626" stroke-width="0.22" >07</text>
<rect x="258.3" y="507.3" width="25.4" height="12.6" rx="6.3" stroke="#333" stroke-width="0.9" fill="#fff"/>
<text x="271" y="516.8000000000001" font-size="8.9" text-anchor="middle" font-weight="normal" fill="#262626" stroke="#262626" stroke-width="0.22" >09</text>
<rect x="372.8" y="578.8000000000001" width="25.4" height="12.6" rx="6.3" stroke="#333" stroke-width="0.9" fill="#fff"/>
<text x="385.5" y="588.3000000000001" font-size="8.9" text-anchor="middle" font-weight="normal" fill="#262626" stroke="#262626" stroke-width="0.22" >06</text>
<rect x="372.8" y="627.7" width="25.4" height="12.6" rx="6.3" stroke="#333" stroke-width="0.9" fill="#fff"/>
<text x="385.5" y="637.2" font-size="8.9" text-anchor="middle" font-weight="normal" fill="#262626" stroke="#262626" stroke-width="0.22" >05</text>
<rect x="236.60000000000002" y="665.9000000000001" width="25.4" height="12.6" rx="6.3" stroke="#333" stroke-width="0.9" fill="#fff"/>
<text x="249.3" y="675.4000000000001" font-size="8.9" text-anchor="middle" font-weight="normal" fill="#262626" stroke="#262626" stroke-width="0.22" >04</text>
<rect x="385.90000000000003" y="670.1" width="25.4" height="12.6" rx="6.3" stroke="#333" stroke-width="0.9" fill="#fff"/>
<text x="398.6" y="679.6" font-size="8.9" text-anchor="middle" font-weight="normal" fill="#262626" stroke="#262626" stroke-width="0.22" >03</text>
<rect x="473.1" y="654.9000000000001" width="25.4" height="12.6" rx="6.3" stroke="#333" stroke-width="0.9" fill="#fff"/>
<text x="485.8" y="664.4000000000001" font-size="8.9" text-anchor="middle" font-weight="normal" fill="#262626" stroke="#262626" stroke-width="0.22" >02</text>
<rect x="548.8" y="654.9000000000001" width="25.4" height="12.6" rx="6.3" stroke="#333" stroke-width="0.9" fill="#fff"/>
<text x="561.5" y="664.4000000000001" font-size="8.9" text-anchor="middle" font-weight="normal" fill="#262626" stroke="#262626" stroke-width="0.22" >01</text>
<line x1="288.5" y1="430.3" x2="302.7" y2="430.3" stroke="#333" stroke-width="0.9" />
<line x1="226" y1="464.5" x2="226" y2="473" stroke="#333" stroke-width="0.9" />
<line x1="240.6" y1="529.7" x2="240.6" y2="541" stroke="#333" stroke-width="0.9" />
<line x1="254.5" y1="588.5" x2="254.5" y2="598.4" stroke="#333" stroke-width="0.9" />
<line x1="294.5" y1="580" x2="294.5" y2="598.4" stroke="#333" stroke-width="0.9" />
<line x1="288" y1="584.4" x2="304.7" y2="584.4" stroke="#333" stroke-width="0.9" />
<line x1="506.7" y1="608.7" x2="506.7" y2="629.7" stroke="#333" stroke-width="0.9" />
<line x1="535.5" y1="634.2" x2="551.5" y2="634.2" stroke="#333" stroke-width="0.9" />
<line x1="509" y1="661.2" x2="516" y2="661.2" stroke="#333" stroke-width="0.9" />
<line x1="466" y1="686.4" x2="477.3" y2="686.4" stroke="#333" stroke-width="0.9" />
<line x1="506" y1="691.5" x2="506" y2="723.5" stroke="#333" stroke-width="0.9" />
<line x1="610.6" y1="691.5" x2="610.6" y2="723.5" stroke="#333" stroke-width="0.9" />
<polygon points="281.5,422.3 289.5,430.3 281.5,438.3 273.5,430.3" stroke="#333" stroke-width="0.9" fill="#fff"/>
<text x="281.5" y="433.40000000000003" font-size="8.6" text-anchor="middle" font-weight="normal" fill="#262626" stroke="#262626" stroke-width="0.22" >A</text>
<polygon points="226,472.0 234.0,480 226,488.0 218.0,480" stroke="#333" stroke-width="0.9" fill="#fff"/>
<text x="226" y="483.1" font-size="8.6" text-anchor="middle" font-weight="normal" fill="#262626" stroke="#262626" stroke-width="0.22" >A</text>
<polygon points="240.7,540.0 248.7,548 240.7,556.0 232.7,548" stroke="#333" stroke-width="0.9" fill="#fff"/>
<text x="240.7" y="551.1" font-size="8.6" text-anchor="middle" font-weight="normal" fill="#262626" stroke="#262626" stroke-width="0.22" >A</text>
<polygon points="254.5,573.2 262.5,581.2 254.5,589.2 246.5,581.2" stroke="#333" stroke-width="0.9" fill="#fff"/>
<text x="254.5" y="584.3000000000001" font-size="8.6" text-anchor="middle" font-weight="normal" fill="#262626" stroke="#262626" stroke-width="0.22" >A</text>
<polygon points="294.5,564.3 302.5,572.3 294.5,580.3 286.5,572.3" stroke="#333" stroke-width="0.9" fill="#fff"/>
<text x="294.5" y="575.4" font-size="7.6" text-anchor="middle" font-weight="normal" fill="#262626" stroke="#262626" stroke-width="0.22" >A2</text>
<polygon points="280.4,576.4 288.4,584.4 280.4,592.4 272.4,584.4" stroke="#333" stroke-width="0.9" fill="#fff"/>
<text x="280.4" y="587.5" font-size="7.6" text-anchor="middle" font-weight="normal" fill="#262626" stroke="#262626" stroke-width="0.22" >A2</text>
<polygon points="506.7,593.2 514.7,601.2 506.7,609.2 498.7,601.2" stroke="#333" stroke-width="0.9" fill="#fff"/>
<text x="506.7" y="604.3000000000001" font-size="8.6" text-anchor="middle" font-weight="normal" fill="#262626" stroke="#262626" stroke-width="0.22" >A</text>
<polygon points="559,626.2 567.0,634.2 559,642.2 551.0,634.2" stroke="#333" stroke-width="0.9" fill="#fff"/>
<text x="559" y="637.3000000000001" font-size="8.6" text-anchor="middle" font-weight="normal" fill="#262626" stroke="#262626" stroke-width="0.22" >A</text>
<polygon points="523.6,653.2 531.6,661.2 523.6,669.2 515.6,661.2" stroke="#333" stroke-width="0.9" fill="#fff"/>
<text x="523.6" y="664.3000000000001" font-size="8.6" text-anchor="middle" font-weight="normal" fill="#262626" stroke="#262626" stroke-width="0.22" >A</text>
<polygon points="458.5,678.4 466.5,686.4 458.5,694.4 450.5,686.4" stroke="#333" stroke-width="0.9" fill="#fff"/>
<text x="458.5" y="689.5" font-size="8.6" text-anchor="middle" font-weight="normal" fill="#262626" stroke="#262626" stroke-width="0.22" >A</text>
<polygon points="506,723.0 514.0,731 506,739.0 498.0,731" stroke="#333" stroke-width="0.9" fill="#fff"/>
<text x="506" y="734.1" font-size="8.6" text-anchor="middle" font-weight="normal" fill="#262626" stroke="#262626" stroke-width="0.22" >A</text>
<polygon points="610.6,723.0 618.6,731 610.6,739.0 602.6,731" stroke="#333" stroke-width="0.9" fill="#fff"/>
<text x="610.6" y="734.1" font-size="8.6" text-anchor="middle" font-weight="normal" fill="#262626" stroke="#262626" stroke-width="0.22" >A</text>
<text x="133.1" y="274.1" font-size="8.95" text-anchor="end" font-weight="normal" fill="#262626" stroke="#262626" stroke-width="0.22" >NEW DOUBLE SINK</text>
<text x="133.1" y="284.3" font-size="8.95" text-anchor="end" font-weight="normal" fill="#262626" stroke="#262626" stroke-width="0.22" >VANITY. DESIGN</text>
<text x="133.1" y="294.5" font-size="8.95" text-anchor="end" font-weight="normal" fill="#262626" stroke="#262626" stroke-width="0.22" >BYCABINET</text>
<text x="133.1" y="304.70000000000005" font-size="8.95" text-anchor="end" font-weight="normal" fill="#262626" stroke="#262626" stroke-width="0.22" >SUB-CONTRACTOR</text>
<text x="133.1" y="314.90000000000003" font-size="8.95" text-anchor="end" font-weight="normal" fill="#262626" stroke="#262626" stroke-width="0.22" >TO BE APPROVED</text>
<text x="133.1" y="325.1" font-size="8.95" text-anchor="end" font-weight="normal" fill="#262626" stroke="#262626" stroke-width="0.22" >BY OWNER.</text>
<line x1="138.7" y1="270.8" x2="165.6" y2="270.8" stroke="#2a2a2a" stroke-width="0.9" />
<line x1="165.6" y1="270.8" x2="214.5" y2="370" stroke="#2a2a2a" stroke-width="0.9" />
<polygon points="214.5,370 209.21697847475622,363.12761441973674 212.26658996910703,361.62432810850936" fill="#2a2a2a"/>
<text x="133.1" y="393.40000000000003" font-size="8.95" text-anchor="end" font-weight="normal" fill="#262626" stroke="#262626" stroke-width="0.22" >NEW BATHTUB</text>
<text x="133.1" y="403.6" font-size="8.95" text-anchor="end" font-weight="normal" fill="#262626" stroke="#262626" stroke-width="0.22" >BY OWNER</text>
<line x1="138.7" y1="390.1" x2="172" y2="390.1" stroke="#2a2a2a" stroke-width="0.9" />
<line x1="172" y1="390.1" x2="340.7" y2="476.3" stroke="#2a2a2a" stroke-width="0.9" />
<polygon points="340.7,476.3 332.35734591490785,473.94625345109216 333.9043756710334,470.9185977682804" fill="#2a2a2a"/>
<text x="133.1" y="446.1" font-size="8.95" text-anchor="end" font-weight="normal" fill="#262626" stroke="#262626" stroke-width="0.22" >NEW TOILETS</text>
<text x="133.1" y="456.3" font-size="8.95" text-anchor="end" font-weight="normal" fill="#262626" stroke="#262626" stroke-width="0.22" >BY OWNER</text>
<line x1="138.7" y1="442.8" x2="172" y2="442.8" stroke="#2a2a2a" stroke-width="0.9" />
<line x1="172" y1="442.8" x2="214.7" y2="493.3" stroke="#2a2a2a" stroke-width="0.9" />
<polygon points="214.7,493.3 207.91364933496976,487.9069076911994 210.50994258181845,485.7116260745571" fill="#2a2a2a"/>
<line x1="172" y1="442.8" x2="330.9" y2="519.3" stroke="#2a2a2a" stroke-width="0.9" />
<polygon points="330.9,519.3 322.50391767887544,517.1445878220396 323.97877484894667,514.081126327604" fill="#2a2a2a"/>
<text x="133.1" y="480.1" font-size="8.95" text-anchor="end" font-weight="normal" fill="#262626" stroke="#262626" stroke-width="0.22" >4" CURB</text>
<line x1="138.7" y1="476.8" x2="172" y2="476.8" stroke="#2a2a2a" stroke-width="0.9" />
<line x1="172" y1="476.8" x2="259.7" y2="528" stroke="#2a2a2a" stroke-width="0.9" />
<polygon points="259.7,528 251.50229659027326,525.1826148992097 253.21649881440237,522.2463739801449" fill="#2a2a2a"/>
<text x="133.1" y="513.8" font-size="8.95" text-anchor="end" font-weight="normal" fill="#262626" stroke="#262626" stroke-width="0.22" >NEW SHOWER PAN.</text>
<text x="133.1" y="524.0" font-size="8.95" text-anchor="end" font-weight="normal" fill="#262626" stroke="#262626" stroke-width="0.22" >SEE DETAIL 3/A201.</text>
<line x1="138.7" y1="510.5" x2="172" y2="510.5" stroke="#2a2a2a" stroke-width="0.9" />
<line x1="172" y1="510.5" x2="260.7" y2="544.3" stroke="#2a2a2a" stroke-width="0.9" />
<polygon points="260.7,544.3 252.15179699830475,542.861867376836 253.36247900734435,539.6847225779659" fill="#2a2a2a"/>
<text x="133.1" y="544.8" font-size="8.95" text-anchor="end" font-weight="normal" fill="#262626" stroke="#262626" stroke-width="0.22" >NEW BUILT-IN</text>
<text x="133.1" y="555.0" font-size="8.95" text-anchor="end" font-weight="normal" fill="#262626" stroke="#262626" stroke-width="0.22" >SHOWER BENCH.</text>
<text x="133.1" y="565.1999999999999" font-size="8.95" text-anchor="end" font-weight="normal" fill="#262626" stroke="#262626" stroke-width="0.22" >SEE DETAIL 4/A201</text>
<line x1="138.7" y1="541.5" x2="154" y2="541.5" stroke="#2a2a2a" stroke-width="0.9" />
<line x1="154" y1="541.5" x2="217.3" y2="559.3" stroke="#2a2a2a" stroke-width="0.9" />
<polygon points="217.3,559.3 208.65716912107283,558.6355646018892 209.57755434180214,555.3625092944642" fill="#2a2a2a"/>
<text x="133.1" y="586.5" font-size="8.95" text-anchor="end" font-weight="normal" fill="#262626" stroke="#262626" stroke-width="0.22" >NEW 36" WIDE</text>
<text x="133.1" y="596.7" font-size="8.95" text-anchor="end" font-weight="normal" fill="#262626" stroke="#262626" stroke-width="0.22" >VANITY. DESIGN</text>
<text x="133.1" y="606.9" font-size="8.95" text-anchor="end" font-weight="normal" fill="#262626" stroke="#262626" stroke-width="0.22" >BYCABINET</text>
<text x="133.1" y="617.1" font-size="8.95" text-anchor="end" font-weight="normal" fill="#262626" stroke="#262626" stroke-width="0.22" >SUB-CONTRACTOR</text>
<text x="133.1" y="627.3" font-size="8.95" text-anchor="end" font-weight="normal" fill="#262626" stroke="#262626" stroke-width="0.22" >TO BE APPROVED</text>
<text x="133.1" y="637.5" font-size="8.95" text-anchor="end" font-weight="normal" fill="#262626" stroke="#262626" stroke-width="0.22" >BY OWNER.</text>
<line x1="138.7" y1="583.2" x2="164" y2="583.2" stroke="#2a2a2a" stroke-width="0.9" />
<line x1="164" y1="583.2" x2="332" y2="554.7" stroke="#2a2a2a" stroke-width="0.9" />
<polygon points="332,554.7 323.90406184278277,557.7977064668096 323.3354007522573,554.4455989858177" fill="#2a2a2a"/>
<text x="133.1" y="689.3" font-size="8.95" text-anchor="end" font-weight="normal" fill="#262626" stroke="#262626" stroke-width="0.22" >NEW AIR</text>
<text x="133.1" y="699.5" font-size="8.95" text-anchor="end" font-weight="normal" fill="#262626" stroke="#262626" stroke-width="0.22" >HANDLING UNIT.</text>
<text x="133.1" y="709.6999999999999" font-size="8.95" text-anchor="end" font-weight="normal" fill="#262626" stroke="#262626" stroke-width="0.22" >SEE</text>
<text x="133.1" y="719.9" font-size="8.95" text-anchor="end" font-weight="normal" fill="#262626" stroke="#262626" stroke-width="0.22" >MECHANICAL</text>
<text x="133.1" y="730.0999999999999" font-size="8.95" text-anchor="end" font-weight="normal" fill="#262626" stroke="#262626" stroke-width="0.22" >DRAWINGS</text>
<text x="133.1" y="740.3" font-size="8.95" text-anchor="end" font-weight="normal" fill="#262626" stroke="#262626" stroke-width="0.22" >FOR MORE</text>
<text x="133.1" y="750.5" font-size="8.95" text-anchor="end" font-weight="normal" fill="#262626" stroke="#262626" stroke-width="0.22" >INFORMATION</text>
<line x1="138.7" y1="686" x2="241.5" y2="686" stroke="#2a2a2a" stroke-width="0.9" />
<line x1="241.5" y1="686" x2="335.2" y2="640.9" stroke="#2a2a2a" stroke-width="0.9" />
<polygon points="335.2,640.9 328.27830248008877,646.118247161917 326.80372261165235,643.0546521802653" fill="#2a2a2a"/>
<text x="690" y="377.8" font-size="8.95" text-anchor="start" font-weight="normal" fill="#262626" stroke="#262626" stroke-width="0.22" >NEW</text>
<text x="690" y="388.0" font-size="8.95" text-anchor="start" font-weight="normal" fill="#262626" stroke="#262626" stroke-width="0.22" >UNDERCOUNTER</text>
<text x="690" y="398.2" font-size="8.95" text-anchor="start" font-weight="normal" fill="#262626" stroke="#262626" stroke-width="0.22" >DISHWASHER BY</text>
<text x="690" y="408.40000000000003" font-size="8.95" text-anchor="start" font-weight="normal" fill="#262626" stroke="#262626" stroke-width="0.22" >OWNER</text>
<line x1="684.4" y1="374.3" x2="616.3" y2="374.3" stroke="#2a2a2a" stroke-width="0.9" />
<line x1="616.3" y1="374.3" x2="518.4" y2="508.5" stroke="#2a2a2a" stroke-width="0.9" />
<polygon points="518.4,508.5 522.0361049124639,500.6311537652871 524.7828838556255,502.6349515189049" fill="#2a2a2a"/>
<text x="690" y="427.5" font-size="8.95" text-anchor="start" font-weight="normal" fill="#262626" stroke="#262626" stroke-width="0.22" >NEW 3'-0" HIGH</text>
<text x="690" y="437.7" font-size="8.95" text-anchor="start" font-weight="normal" fill="#262626" stroke="#262626" stroke-width="0.22" >KITCHEN</text>
<text x="690" y="447.9" font-size="8.95" text-anchor="start" font-weight="normal" fill="#262626" stroke="#262626" stroke-width="0.22" >ISLAND</text>
<line x1="684.4" y1="423.3" x2="646.2" y2="423.3" stroke="#2a2a2a" stroke-width="0.9" />
<line x1="646.2" y1="423.3" x2="523" y2="527" stroke="#2a2a2a" stroke-width="0.9" />
<polygon points="523,527 528.4082387674152,520.2257138062652 530.597715090589,522.826904577866" fill="#2a2a2a"/>
<text x="690" y="471.2" font-size="8.95" text-anchor="start" font-weight="normal" fill="#262626" stroke="#262626" stroke-width="0.22" >NEW CABINETRY.</text>
<text x="690" y="481.4" font-size="8.95" text-anchor="start" font-weight="normal" fill="#262626" stroke="#262626" stroke-width="0.22" >DESIGN BY</text>
<text x="690" y="491.59999999999997" font-size="8.95" text-anchor="start" font-weight="normal" fill="#262626" stroke="#262626" stroke-width="0.22" >CABINETRY SUB-</text>
<text x="690" y="501.8" font-size="8.95" text-anchor="start" font-weight="normal" fill="#262626" stroke="#262626" stroke-width="0.22" >CONTRACTOR TO</text>
<text x="690" y="512.0" font-size="8.95" text-anchor="start" font-weight="normal" fill="#262626" stroke="#262626" stroke-width="0.22" >BE APPROVED BY</text>
<text x="690" y="522.2" font-size="8.95" text-anchor="start" font-weight="normal" fill="#262626" stroke="#262626" stroke-width="0.22" >OWNER.</text>
<line x1="684.4" y1="467.8" x2="676.2" y2="467.8" stroke="#2a2a2a" stroke-width="0.9" />
<line x1="676.2" y1="467.8" x2="610.5" y2="522.4" stroke="#2a2a2a" stroke-width="0.9" />
<polygon points="610.5,522.4 615.950664340471,515.6598028035139 618.1237660052371,518.2746888726556" fill="#2a2a2a"/>
<text x="690" y="545.0999999999999" font-size="8.95" text-anchor="start" font-weight="normal" fill="#262626" stroke="#262626" stroke-width="0.22" >NEW STOVE BY</text>
<text x="690" y="555.3" font-size="8.95" text-anchor="start" font-weight="normal" fill="#262626" stroke="#262626" stroke-width="0.22" >OWNER WITH</text>
<text x="690" y="565.4999999999999" font-size="8.95" text-anchor="start" font-weight="normal" fill="#262626" stroke="#262626" stroke-width="0.22" >MICROWAVE</text>
<text x="690" y="575.6999999999999" font-size="8.95" text-anchor="start" font-weight="normal" fill="#262626" stroke="#262626" stroke-width="0.22" >INSET INTO</text>
<text x="690" y="585.8999999999999" font-size="8.95" text-anchor="start" font-weight="normal" fill="#262626" stroke="#262626" stroke-width="0.22" >CABINETS</text>
<text x="690" y="596.0999999999999" font-size="8.95" text-anchor="start" font-weight="normal" fill="#262626" stroke="#262626" stroke-width="0.22" >OVER STOVE WITH</text>
<text x="690" y="606.3" font-size="8.95" text-anchor="start" font-weight="normal" fill="#262626" stroke="#262626" stroke-width="0.22" >EXHAUST</text>
<line x1="684.4" y1="541.8" x2="662.6" y2="541.8" stroke="#2a2a2a" stroke-width="0.9" />
<line x1="662.6" y1="541.8" x2="610.9" y2="562.4" stroke="#2a2a2a" stroke-width="0.9" />
<polygon points="610.9,562.4 618.1670012116899,557.6744636929448 619.425515082735,560.8329669518298" fill="#2a2a2a"/>
<text x="690" y="626.5999999999999" font-size="8.95" text-anchor="start" font-weight="normal" fill="#262626" stroke="#262626" stroke-width="0.22" >DASHED LINE</text>
<text x="690" y="636.8" font-size="8.95" text-anchor="start" font-weight="normal" fill="#262626" stroke="#262626" stroke-width="0.22" >REPRESENTS</text>
<text x="690" y="646.9999999999999" font-size="8.95" text-anchor="start" font-weight="normal" fill="#262626" stroke="#262626" stroke-width="0.22" >EXTENT OF UPPER</text>
<text x="690" y="657.1999999999999" font-size="8.95" text-anchor="start" font-weight="normal" fill="#262626" stroke="#262626" stroke-width="0.22" >CABINETS</text>
<line x1="684.4" y1="623.3" x2="646.8" y2="623.3" stroke="#2a2a2a" stroke-width="0.9" />
<line x1="646.8" y1="623.3" x2="612.6" y2="610.9" stroke="#2a2a2a" stroke-width="0.9" />
<polygon points="612.6,610.9 621.170431488816,612.1991166597005 620.0115072744069,615.3955044123451" fill="#2a2a2a"/>
<text x="690" y="684.8" font-size="8.95" text-anchor="start" font-weight="normal" fill="#262626" stroke="#262626" stroke-width="0.22" >NEW REFRIGERATOR</text>
<text x="690" y="695.0" font-size="8.95" text-anchor="start" font-weight="normal" fill="#262626" stroke="#262626" stroke-width="0.22" >BY OWNER</text>
<line x1="684.4" y1="681.5" x2="651.7" y2="681.5" stroke="#2a2a2a" stroke-width="0.9" />
<line x1="651.7" y1="681.5" x2="618.7" y2="652.4" stroke="#2a2a2a" stroke-width="0.9" />
<polygon points="618.7,652.4 626.1996862023093,656.7468042130848 623.9509394894067,659.296929351428" fill="#2a2a2a"/>
<line x1="544.8" y1="610.6" x2="525.8" y2="658.6" stroke="#2a2a2a" stroke-width="0.9" />
<line x1="489.4" y1="666" x2="481.2" y2="733.3" stroke="#2a2a2a" stroke-width="0.9" />
<text x="3.6" y="441.8" font-size="10.75" fill="#b8b8b8" opacity="0.9">A11587371 © Miami MLS® 2024</text>
</svg>
</body></html>
